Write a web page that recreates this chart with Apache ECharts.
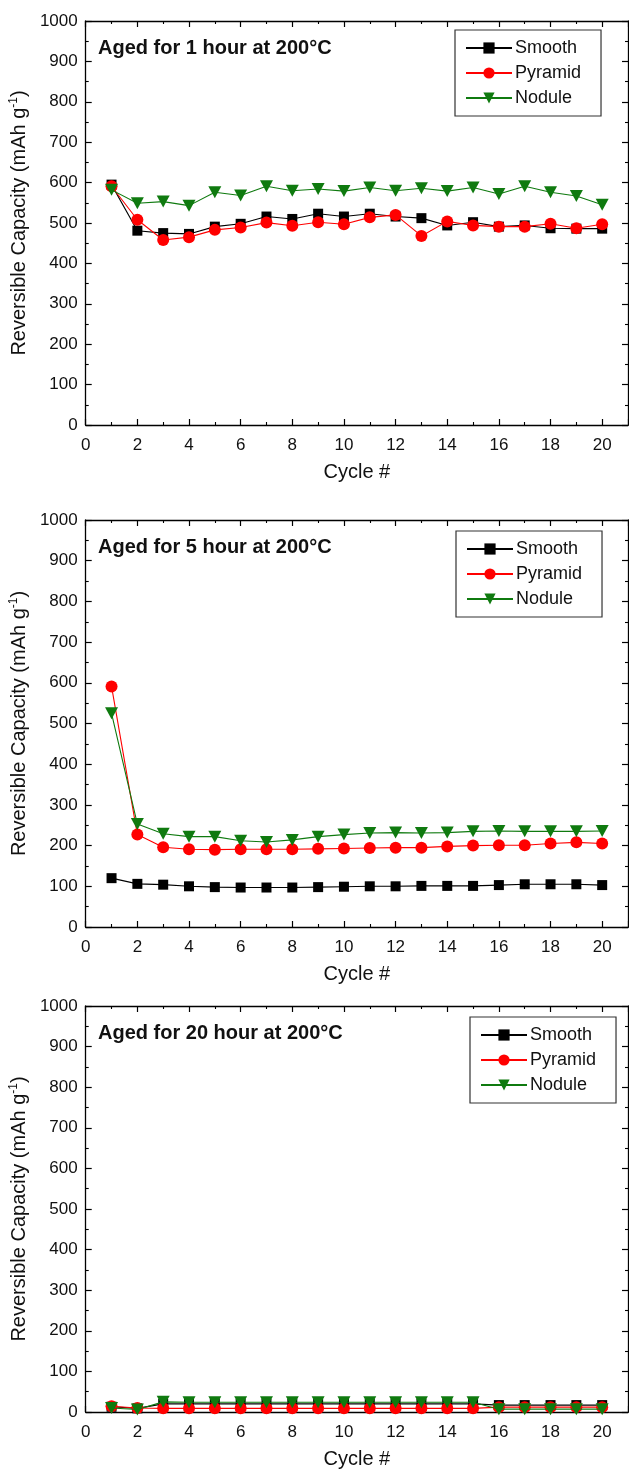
<!DOCTYPE html>
<html>
<head>
<meta charset="utf-8">
<script src="https://cdn.jsdelivr.net/npm/echarts@6/dist/echarts.min.js"></script>
<style>
html,body{margin:0;padding:0;background:#fff;}
#chart{width:629px;height:1470px;}
</style>
</head>
<body>
<div id="chart"></div>
<script>
// ---- data ----
const cycles = [1,2,3,4,5,6,7,8,9,10,11,12,13,14,15,16,17,18,19,20];
const seriesNames = ['Smooth','Pyramid','Nodule'];
const panelTitles = ['Aged for 1 hour at 200°C','Aged for 5 hour at 200°C','Aged for 20 hour at 200°C'];
const xTickValues = [0,2,4,6,8,10,12,14,16,18,20];
const yTickValues = [0,100,200,300,400,500,600,700,800,900,1000];

const smooth1h  = [595,481,475,473,491,498,516,510,523,516,523,516,512,494,502,491,494,487,486,486];
const pyramid1h = [591,508,458,465,483,489,501,493,502,497,514,520,468,504,494,491,491,498,487,497];
const nodule1h  = [582,549,553,543,576,568,591,580,584,579,588,580,586,579,588,572,591,576,567,545];

const smooth5h  = [120,106,104,100,98,97,97,97,98,99,100,100,101,101,101,103,105,105,105,103];
const pyramid5h = [591,227,196,191,190,191,191,191,192,193,194,195,195,198,200,201,201,205,208,205];
const nodule5h  = [525,253,229,222,222,212,209,214,222,227,231,232,231,232,235,236,235,235,235,236];

const smooth20h  = [13,9,20,20,20,20,20,20,20,20,20,20,20,20,20,17,17,17,17,17];
const pyramid20h = [14,10,9,9,9,9,9,9,9,9,9,9,9,9,9,12,12,12,12,12];
const nodule20h  = [10,6,25,24,24,24,24,24,24,24,24,24,24,24,24,7,7,7,7,7];

const panelData = [
  [smooth1h, pyramid1h, nodule1h],
  [smooth5h, pyramid5h, nodule5h],
  [smooth20h, pyramid20h, nodule20h]
];

// ---- layout / style ----
const FONT = 'Liberation Sans, Arial, Helvetica, sans-serif';
const layout = [
  {top:21,  height:404, legendTop:30,   legendLeft:455},
  {top:520, height:407, legendTop:531,  legendLeft:456},
  {top:1006,height:407, legendTop:1017, legendLeft:470}
];
const colors = ['#000000','#ff0000','#0f7a0f'];
const symbols = ['rect','circle','triangle'];
const symbolSizes = [10,12,[13,12]];
const symbolRotates = [0,0,180];

const grids=[], xAxes=[], yAxes=[], series=[], titles=[], legends=[];
const axisLineStyle = {color:'#000', width:1.3};
const tickStyle = {show:true, inside:true, length:6, lineStyle:{color:'#000', width:1.2}};
const minorStyle = {show:true, splitNumber:2, length:3, lineStyle:{color:'#000', width:1.1}};

layout.forEach((L,i)=>{
  grids.push({left:85, width:543, top:L.top, height:L.height, containLabel:false});
  // bottom x
  xAxes.push({
    gridIndex:i, type:'value', position:'bottom', min:0, max:21, interval:2,
    axisLine:{show:true, onZero:false, lineStyle:axisLineStyle},
    axisTick:tickStyle, minorTick:minorStyle,
    splitLine:{show:false},
    axisLabel:{show:true, fontSize:17, color:'#111', fontFamily:FONT, margin:12, showMaxLabel:false,
      formatter:v=> xTickValues.indexOf(v)>=0 ? String(v) : ''},
    name:'Cycle #', nameLocation:'middle', nameGap:37,
    nameTextStyle:{fontSize:20, color:'#111', fontFamily:FONT}
  });
  // top x (mirror)
  xAxes.push({
    gridIndex:i, type:'value', position:'top', min:0, max:21, interval:2,
    axisLine:{show:true, onZero:false, lineStyle:axisLineStyle},
    axisTick:tickStyle, minorTick:minorStyle,
    splitLine:{show:false}, axisLabel:{show:false}
  });
  // left y
  yAxes.push({
    gridIndex:i, type:'value', position:'left', min:0, max:1000, interval:100,
    axisLine:{show:true, onZero:false, lineStyle:axisLineStyle},
    axisTick:tickStyle, minorTick:minorStyle,
    splitLine:{show:false},
    axisLabel:{show:true, fontSize:17, color:'#111', fontFamily:FONT, margin:8,
      formatter:v=> yTickValues.indexOf(v)>=0 ? String(v) : ''},
    name:'Reversible Capacity (mAh g{sup|-1})', nameLocation:'middle', nameGap:55,
    nameTextStyle:{fontSize:20, color:'#111', fontFamily:FONT,
      rich:{sup:{fontSize:12, color:'#111', fontFamily:FONT, verticalAlign:'top', padding:[0,0,10,0]}}}
  });
  // right y (mirror)
  yAxes.push({
    gridIndex:i, type:'value', position:'right', min:0, max:1000, interval:100,
    axisLine:{show:true, onZero:false, lineStyle:axisLineStyle},
    axisTick:tickStyle, minorTick:minorStyle,
    splitLine:{show:false}, axisLabel:{show:false}
  });

  titles.push({
    text:panelTitles[i], left:98, top:L.top+17,
    textStyle:{fontSize:20, fontWeight:'bold', color:'#111', fontFamily:FONT}, padding:0
  });

  legends.push({
    orient:'vertical', left:L.legendLeft, top:L.legendTop,
    data:seriesNames,
    borderColor:'#333', borderWidth:1.2, padding:[9,20,9,10],
    itemGap:7, itemWidth:46, itemHeight:14,
    textStyle:{fontSize:18, color:'#111', fontFamily:FONT, padding:[0,0,0,-2]},
    selectedMode:false
  });

  seriesNames.forEach((nm,k)=>{
    series.push({
      name:nm, type:'line',
      xAxisIndex:i*2, yAxisIndex:i*2,
      data:cycles.map((c,j)=>[c, panelData[i][k][j]]),
      symbol:symbols[k], symbolSize:symbolSizes[k], symbolRotate:symbolRotates[k],
      showAllSymbol:true,
      lineStyle:{color:colors[k], width:1.1},
      itemStyle:{color:colors[k], borderWidth:0},
      emphasis:{disabled:true},
      animation:false, z:2+k
    });
  });
});

const chart = echarts.init(document.getElementById('chart'), null, {renderer:'canvas'});
chart.setOption({
  backgroundColor:'#fff',
  animation:false,
  title:titles,
  legend:legends,
  grid:grids,
  xAxis:xAxes,
  yAxis:yAxes,
  series:series
});
</script>
</body>
</html>
